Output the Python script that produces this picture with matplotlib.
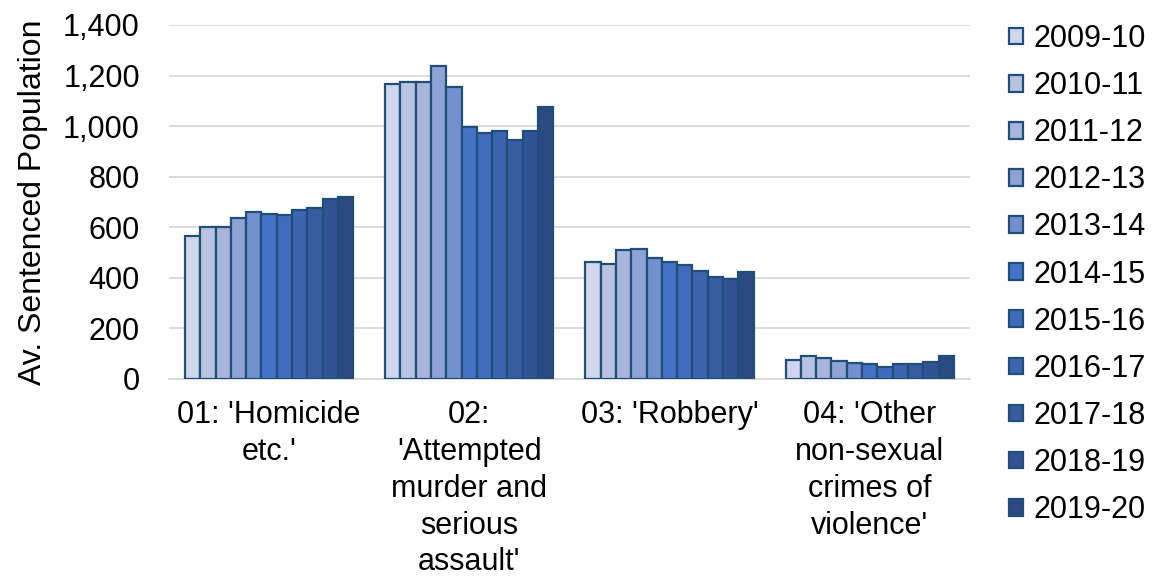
import matplotlib
matplotlib.use("Agg")
import matplotlib.pyplot as plt
import numpy as np
from matplotlib.ticker import FuncFormatter

plt.rcParams['font.family'] = ['Liberation Sans', 'DejaVu Sans']

categories = [
    "01: 'Homicide\netc.'",
    "02:\n'Attempted\nmurder and\nserious\nassault'",
    "03: 'Robbery'",
    "04: 'Other\nnon-sexual\ncrimes of\nviolence'",
]

years = ["2009-10", "2010-11", "2011-12", "2012-13", "2013-14", "2014-15",
         "2015-16", "2016-17", "2017-18", "2018-19", "2019-20"]

homicide = [564, 600, 600, 637, 662, 653, 649, 667, 678, 710, 720]
attempted_murder = [1165, 1174, 1174, 1237, 1154, 997, 974, 979, 944, 979, 1075]
robbery = [463, 454, 509, 515, 477, 464, 451, 429, 404, 396, 424]
other_violence = [76, 89, 82, 72, 62, 59, 49, 59, 59, 68, 89]

colors = ["#CFD5EA", "#B9C2E1", "#A8B5DB", "#8FA2D4", "#7290CE", "#4472C4",
          "#406BBA", "#3C64AF", "#375CA2", "#315394", "#2B4A82"]
edge_color = "#1F4E79"

values = np.array([homicide, attempted_murder, robbery, other_violence])

FS = 22

fig = plt.figure(figsize=(11.54, 5.77), dpi=100)
ax = fig.add_axes([0.1464, 0.3432, 0.694, 0.6135])

n_years = len(years)
group_width = 0.84
bar_w = group_width / n_years
x = np.arange(len(categories))

for i, year in enumerate(years):
    offs = -group_width / 2 + bar_w * (i + 0.5)
    ax.bar(x + offs, values[:, i], width=bar_w, color=colors[i],
           edgecolor=edge_color, linewidth=1.6, label=year, zorder=3)

ax.set_xlim(-0.5, len(categories) - 0.5)
ax.set_ylim(0, 1400)
ax.set_yticks(np.arange(0, 1401, 200))
ax.yaxis.set_major_formatter(FuncFormatter(lambda v, p: f"{int(v):,}"))
ax.grid(axis='y', color='#D9D9D9', linewidth=1.3, zorder=0)
ax.set_axisbelow(True)

for s in ['top', 'right', 'left']:
    ax.spines[s].set_visible(False)
ax.spines['bottom'].set_color('#D9D9D9')
ax.spines['bottom'].set_linewidth(1.3)

ax.tick_params(axis='y', length=0, labelsize=FS, colors='#000000', pad=21)
ax.tick_params(axis='x', length=0, labelsize=FS, colors='#000000', pad=15)
ax.set_xticks(x)
ax.set_xticklabels(categories, fontsize=FS, linespacing=1.3)
ax.set_ylabel("Av. Sentenced Population", fontsize=23, labelpad=11)

fig.legend(loc='upper left', bbox_to_anchor=(1009 / 1154, 1 - 24 / 577),
           frameon=False, fontsize=FS, handlelength=0.46, handleheight=0.46,
           handletextpad=0.33, labelspacing=0.56, borderaxespad=0,
           borderpad=0)

fig.savefig("out.png", dpi=100)
